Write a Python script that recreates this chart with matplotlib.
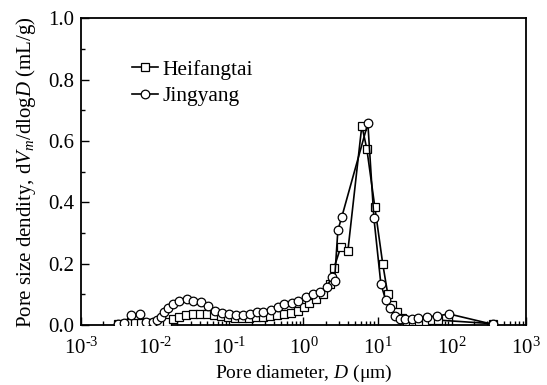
import matplotlib
matplotlib.use("Agg")
import matplotlib.pyplot as plt
from matplotlib.ticker import LogLocator, MultipleLocator, FixedLocator
import numpy as np

plt.rcParams['font.family'] = ['Liberation Serif', 'DejaVu Serif']
plt.rcParams['mathtext.fontset'] = 'custom'
plt.rcParams['mathtext.rm'] = 'Liberation Serif'
plt.rcParams['mathtext.it'] = 'Liberation Serif:italic'
plt.rcParams['mathtext.bf'] = 'Liberation Serif:bold'

# Heifangtai (squares)
heif_D = [0.00316, 0.0038, 0.00443, 0.00533, 0.0064, 0.0077, 0.00933, 0.0116, 0.0144,
          0.0174, 0.0209, 0.026, 0.0323, 0.0402, 0.0499, 0.0619, 0.077, 0.0957, 0.119,
          0.148, 0.184, 0.228, 0.284, 0.352, 0.438, 0.545, 0.676, 0.841, 1.01, 1.18,
          1.47, 1.82, 2.27, 2.57, 3.19, 3.96, 6.12, 7.14, 9.16, 11.7, 13.7, 15.5,
          18.2, 21.2, 24.8, 29.8, 35.9, 44.7, 53.7, 64.7, 357]
heif_v = [0.004, 0.004, 0.005, 0.005, 0.006, 0.006, 0.007, 0.008, 0.011,
          0.018, 0.026, 0.032, 0.035, 0.037, 0.036, 0.033, 0.028, 0.025, 0.024,
          0.023, 0.024, 0.025, 0.027, 0.029, 0.032, 0.036, 0.040, 0.047, 0.058, 0.070,
          0.085, 0.100, 0.135, 0.185, 0.255, 0.240, 0.650, 0.575, 0.385, 0.200, 0.100, 0.065,
          0.043, 0.022, 0.014, 0.013, 0.013, 0.014, 0.015, 0.016, 0.004]

# Jingyang (circles)
jing_D = [0.00316, 0.0038, 0.00472, 0.00624, 0.00752, 0.00933, 0.01057, 0.01197, 0.01315,
          0.0149, 0.0174, 0.0209, 0.0269, 0.0323, 0.0414, 0.0515, 0.064, 0.0794, 0.0989,
          0.1227, 0.152, 0.19, 0.236, 0.284, 0.364, 0.452, 0.545, 0.698, 0.841, 1.077,
          1.34, 1.66, 2.07, 2.40, 2.62, 2.91, 3.29, 7.38, 8.89, 11.05, 12.9, 14.6,
          17.1, 19.9, 23.3, 28.9, 34.8, 46.0, 62.8, 91.2, 357]
jing_v = [0.003, 0.005, 0.033, 0.036, 0.008, 0.010, 0.017, 0.027, 0.043,
          0.055, 0.068, 0.078, 0.084, 0.078, 0.075, 0.062, 0.045, 0.039, 0.036,
          0.033, 0.033, 0.036, 0.042, 0.042, 0.049, 0.059, 0.068, 0.072, 0.078, 0.091,
          0.100, 0.108, 0.125, 0.155, 0.143, 0.309, 0.353, 0.658, 0.350, 0.134, 0.080, 0.055,
          0.028, 0.020, 0.020, 0.020, 0.023, 0.026, 0.029, 0.036, 0.002]

xticks = [1e-3, 1e-2, 1e-1, 1e0, 1e1, 1e2, 1e3]
xtick_exps = ['-3', '-2', '-1', '0', '1', '2', '3']
yticks = [0.0, 0.2, 0.4, 0.6, 0.8, 1.0]

fig = plt.figure(figsize=(5.47, 3.85), dpi=100)
ax = fig.add_axes([0.148, 0.156, 0.8136, 0.796])

ax.plot(heif_D, heif_v, '-', color='black', lw=1.2, marker='s', ms=5.2,
        mfc='white', mec='black', mew=0.9, label='Heifangtai', zorder=3)
ax.plot(jing_D, jing_v, '-', color='black', lw=1.2, marker='o', ms=6.2,
        mfc='white', mec='black', mew=0.9, label='Jingyang', zorder=3)

ax.set_xscale('log')
ax.set_xlim(1e-3, 1e3)
ax.set_ylim(0, 1.0)
ax.xaxis.set_minor_locator(LogLocator(base=10, subs=np.arange(2, 10), numticks=20))
ax.xaxis.set_minor_formatter(matplotlib.ticker.NullFormatter())
ax.set_xticks(xticks)
ax.set_xticklabels(['$\\mathregular{10^{' + e.replace('-', '\u2010') + '}}$' for e in xtick_exps])
ax.set_yticks(yticks)
ax.yaxis.set_major_formatter(matplotlib.ticker.FormatStrFormatter('%.1f'))
ax.yaxis.set_minor_locator(MultipleLocator(0.1))

ax.tick_params(which='both', direction='in', top=False, right=False, labelsize=15,
               width=1.0)
ax.tick_params(which='major', length=6)
ax.tick_params(which='minor', length=3)
ax.tick_params(axis='x', which='major', pad=9)
ax.tick_params(axis='y', which='major', pad=5)
for s in ax.spines.values():
    s.set_linewidth(1.3)

ax.set_xlabel(r'Pore diameter, $\mathit{D}$ ($\mathrm{\mu}$m)', fontsize=14, labelpad=3)
ax.set_ylabel(r'Pore size dendity, d$\mathit{V}_{\mathit{m}}$/dlog$\mathit{D}$ (mL/g)',
              fontsize=15, labelpad=7)

leg = ax.legend(loc='upper left', bbox_to_anchor=(0.115, 0.865), frameon=False,
                fontsize=15.5, handlelength=1.2, handletextpad=0.2, labelspacing=0.29,
                borderaxespad=0, borderpad=0)

fig.savefig('out.png', dpi=100)
